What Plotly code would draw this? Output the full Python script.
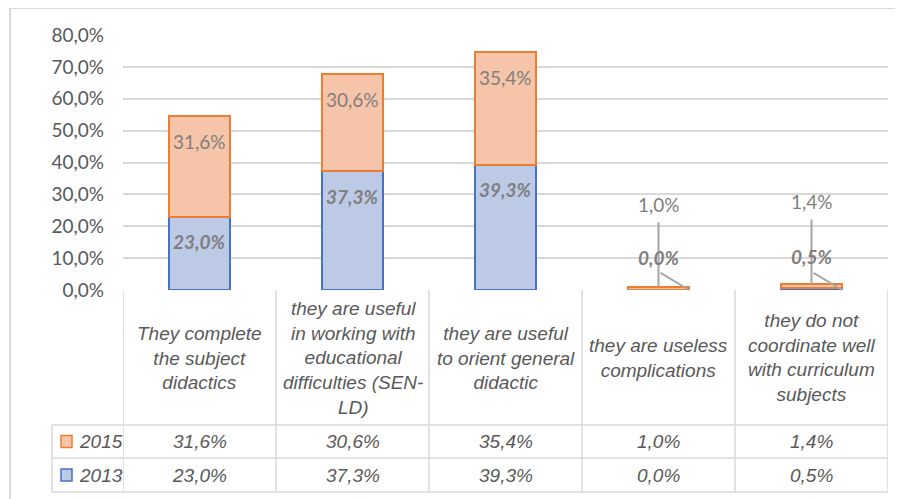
import plotly.graph_objects as go

# ---------------- data ----------------
categories = [
    "They complete<br>the subject<br>didactics",
    "they are useful<br>in working with<br>educational<br>difficulties (SEN-<br>LD)",
    "they are useful<br>to orient general<br>didactic",
    "they are useless<br>complications",
    "they do not<br>coordinate well<br>with curriculum<br>subjects",
]
series_names = ["2013", "2015"]
values_2013 = [0.230, 0.373, 0.393, 0.000, 0.005]
values_2015 = [0.316, 0.306, 0.354, 0.010, 0.014]
y_ticks = [0.0, 0.1, 0.2, 0.3, 0.4, 0.5, 0.6, 0.7, 0.8]

W, H = 903, 499
OX, OY = 8, 8  # page body margin offset of the plot div

def px(x):
    return (x - OX) / W
def py(y):
    return 1 - (y - OY) / H

BLUE_FILL, BLUE_LINE = "#bccae6", "#4472c4"
ORANGE_FILL, ORANGE_LINE = "#f6c4a8", "#ed7d31"
GRID = "#d9d9d9"
TXT = "#595959"
LBL = "#7f7f7f"

def fmt(v):
    return f"{v*100:.1f}%".replace(".", ",")

idx = list(range(len(categories)))

fig = go.Figure()
fig.add_trace(go.Bar(x=idx, y=values_2013, name=series_names[0], width=0.4,
                     marker=dict(color=BLUE_FILL, line=dict(color=BLUE_LINE, width=2))))
fig.add_trace(go.Bar(x=idx, y=values_2015, name=series_names[1], width=0.4,
                     marker=dict(color=ORANGE_FILL, line=dict(color=ORANGE_LINE, width=2))))

annotations = []
shapes = []
small = 0.05
for i, (a, b) in enumerate(zip(values_2013, values_2015)):
    top = a + b
    if b >= small:
        annotations.append(dict(x=i, y=top, xref="x", yref="y", text=fmt(b), showarrow=False,
                                yanchor="middle", yshift=-26,
                                font=dict(family="Lato", size=19, color=LBL)))
    else:
        annotations.append(dict(x=i, y=top, xref="x", yref="y", text=fmt(b), showarrow=False,
                                yanchor="middle", yshift=82,
                                font=dict(family="Lato", size=19, color=LBL)))
        annotations.append(dict(x=i, y=top, xref="x", yref="y", text="", showarrow=True,
                                ax=0, ay=-66, arrowhead=0, arrowwidth=2, arrowcolor="#a6a6a6",
                                standoff=0, startstandoff=0))
    if a >= small:
        annotations.append(dict(x=i, y=a, xref="x", yref="y", text=fmt(a), showarrow=False,
                                yanchor="middle", yshift=-25,
                                font=dict(family="Lato", size=19, color=LBL, weight="bold", style="italic")))
    else:
        annotations.append(dict(x=i, y=a / 2, xref="x", yref="y", text=fmt(a), showarrow=False,
                                yanchor="middle", yshift=33,
                                font=dict(family="Lato", size=19, color=LBL, weight="bold", style="italic")))
        annotations.append(dict(x=i + 0.2, y=0, xref="x", yref="y", text="", showarrow=True,
                                ax=-30, ay=-18, arrowhead=0, arrowwidth=2, arrowcolor="#a6a6a6",
                                standoff=0, startstandoff=0))

# ---------- data table below the plot ----------
tbl_top, hdr_bot, row1_bot, row2_bot = 290, 425, 458, 492
leg_left = 52
line = dict(color=GRID, width=1.5)
for i in range(len(categories) + 1):
    shapes.append(dict(type="line", xref="x", yref="paper", x0=i - 0.5, x1=i - 0.5,
                       y0=py(tbl_top), y1=py(row2_bot), line=line))
for yy in (hdr_bot, row1_bot, row2_bot):
    shapes.append(dict(type="line", xref="paper", yref="paper", x0=px(leg_left), x1=px(888),
                       y0=py(yy), y1=py(yy), line=line))
shapes.append(dict(type="line", xref="paper", yref="paper", x0=px(leg_left), x1=px(leg_left),
                   y0=py(hdr_bot), y1=py(row2_bot), line=line))
# outer chart border
shapes.append(dict(type="rect", xref="paper", yref="paper", x0=px(10), x1=px(915),
                   y0=py(8), y1=py(515), line=dict(color=GRID, width=2)))

tfont = dict(family="Liberation Sans Narrow, Liberation Sans", size=19, color=TXT, style="italic")
for i, c in enumerate(categories):
    annotations.append(dict(x=i, y=py((tbl_top + hdr_bot) / 2), xref="x", yref="paper", text=c,
                            showarrow=False, yanchor="middle", align="center", font=tfont))
rows = [(series_names[1], values_2015, ORANGE_FILL, ORANGE_LINE, (hdr_bot + row1_bot) / 2),
        (series_names[0], values_2013, BLUE_FILL, BLUE_LINE, (row1_bot + row2_bot) / 2)]
for name, vals, fc, lc, cy in rows:
    for i, v in enumerate(vals):
        annotations.append(dict(x=i, y=py(cy), xref="x", yref="paper", text=fmt(v),
                                showarrow=False, yanchor="middle", font=tfont))
    annotations.append(dict(x=px(77), y=py(cy), xref="paper", yref="paper", text=name,
                            showarrow=False, xanchor="left", yanchor="middle", font=tfont))
    shapes.append(dict(type="rect", xref="paper", yref="paper", x0=px(61), x1=px(72),
                       y0=py(cy - 6), y1=py(cy + 6), fillcolor=fc, line=dict(color=lc, width=1.5)))

fig.update_layout(
    width=W, height=H,
    margin=dict(l=0, r=0, t=0, b=0, pad=0, autoexpand=False),
    paper_bgcolor="white", plot_bgcolor="white",
    barmode="stack", showlegend=False,
    separators=",.",
    xaxis=dict(domain=[px(123), px(888)], range=[-0.5, len(categories) - 0.5], automargin=False,
               showticklabels=False, showgrid=False, zeroline=False, showline=False, fixedrange=True),
    yaxis=dict(domain=[py(290), py(35)], range=[0, 0.8], tickvals=y_ticks, tickformat=".1%",
               automargin=False,
               showgrid=True, gridcolor=GRID, gridwidth=1.5, zeroline=False, showline=False,
               ticklabelstandoff=18,
               tickfont=dict(family="Lato", size=19, color=TXT)),
    annotations=annotations,
    shapes=shapes,
)
fig.write_html("out.html")
